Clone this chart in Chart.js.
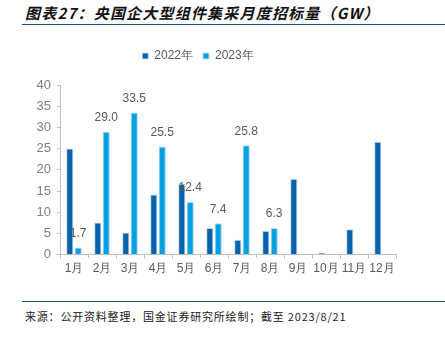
<!DOCTYPE html>
<html>
<head>
<meta charset="utf-8">
<script src="https://cdn.jsdelivr.net/npm/chart.js@4"></script>
<style>
html,body{margin:0;padding:0;background:#fff;}
body{width:445px;height:337px;position:relative;overflow:hidden;font-family:"Liberation Sans",Arial,sans-serif;}
#title{position:absolute;left:25px;top:3px;font-family:"Noto Sans CJK SC",sans-serif;font-size:15px;font-weight:bold;font-style:italic;letter-spacing:1.2px;color:#111;white-space:nowrap;line-height:20px;}
#tline{position:absolute;left:22px;top:24px;width:423px;height:0;border-top:1.5px solid #1c4f7c;}
#bline{position:absolute;left:22px;top:301px;width:423px;height:0;border-top:1.5px solid #1c4f7c;}
#source{position:absolute;left:25px;top:308px;font-family:"Noto Sans CJK SC",sans-serif;font-size:11px;letter-spacing:0.8px;color:#222;white-space:nowrap;line-height:16px;}
#wrap{position:absolute;left:0;top:40px;width:445px;height:239px;}
</style>
</head>
<body>
<div id="title">图表27：央国企大型组件集采月度招标量（GW）</div>
<div id="tline"></div>
<div id="wrap"><canvas id="c"></canvas></div>
<div id="bline"></div>
<div id="source">来源：公开资料整理，国金证券研究所绘制；截至 2023/8/21</div>
<script>
const months = ["1月","2月","3月","4月","5月","6月","7月","8月","9月","10月","11月","12月"];
const seriesNames = ["2022年","2023年"];
const values2022 = [25.0, 7.6, 5.2, 14.2, 16.7, 6.3, 3.5, 5.6, 17.9, 0.4, 6.0, 26.6];
const values2023 = [1.7, 29.0, 33.5, 25.5, 12.4, 7.4, 25.8, 6.3, null, null, null, null];
const yTicks = [0, 5, 10, 15, 20, 25, 30, 35, 40];

const labelPlugin = {
  id: 'valLabels',
  afterDatasetsDraw(chart) {
    const ctx = chart.ctx;
    const meta = chart.getDatasetMeta(1);
    ctx.save();
    ctx.font = '12px "Liberation Sans", Arial, sans-serif';
    ctx.fillStyle = '#595959';
    ctx.textAlign = 'center';
    ctx.textBaseline = 'middle';
    meta.data.forEach((el, i) => {
      const v = chart.data.datasets[1].data[i];
      if (v === null || v === undefined) return;
      ctx.fillText(v.toFixed(1), el.x, el.y - 14);
    });
    ctx.restore();
  }
};

const legendSpace = {
  id: 'legendSpace',
  beforeInit(chart) {
    const lg = chart.legend;
    const orig = lg.fit;
    lg.fit = function() { orig.call(this); this.height += 13; };
  }
};

new Chart(document.getElementById('c'), {
  type: 'bar',
  data: {
    labels: months,
    datasets: [
      {label: seriesNames[0], data: values2022, backgroundColor: '#0563ae', borderColor: '#c8d6e6', borderWidth: 1, barPercentage: 0.86, categoryPercentage: 0.6},
      {label: seriesNames[1], data: values2023, backgroundColor: '#00a0e6', borderColor: '#c8d6e6', borderWidth: 1, barPercentage: 0.86, categoryPercentage: 0.6}
    ]
  },
  options: {
    responsive: true,
    maintainAspectRatio: false,
    animation: false,
    devicePixelRatio: 1,
    layout: {padding: {left: 0, right: 49, top: 0, bottom: 0}},
    plugins: {
      legend: {
        display: true,
        position: 'top',
        labels: {boxWidth: 6, boxHeight: 6, padding: 10, color: '#595959', font: {size: 12, family: '"Liberation Sans", Arial, sans-serif'}}
      },
      tooltip: {enabled: false}
    },
    scales: {
      x: {
        offset: true,
        grid: {display: true, offset: true, drawOnChartArea: false, drawTicks: true, tickLength: 4, color: '#bfbfbf'},
        border: {display: true, color: '#bfbfbf', width: 1},
        ticks: {color: '#595959', font: {size: 12, family: '"Liberation Sans", Arial, sans-serif'}, maxRotation: 0, autoSkip: false, padding: 3}
      },
      y: {
        min: 0, max: 40,
        afterBuildTicks(axis) { axis.ticks = yTicks.map(v => ({value: v})); },
        afterFit(axis) { axis.width = 60; },
        grid: {display: true, drawOnChartArea: false, drawTicks: true, tickLength: 3, color: '#bfbfbf'},
        border: {display: true, color: '#bfbfbf', width: 1},
        ticks: {color: '#7f7f7f', font: {size: 13, family: '"Liberation Sans", Arial, sans-serif'}, padding: 6}
      }
    }
  },
  plugins: [labelPlugin, legendSpace]
});
</script>
</body>
</html>
